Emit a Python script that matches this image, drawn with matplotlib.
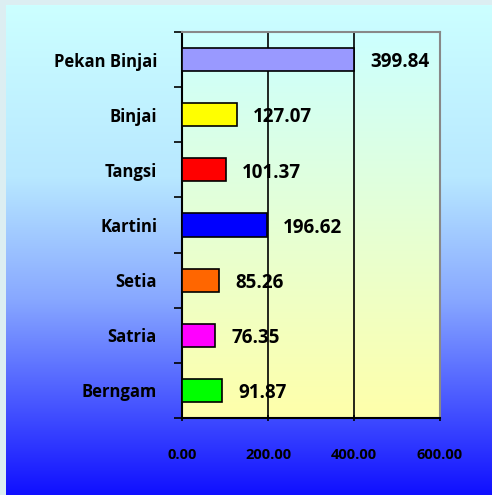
import matplotlib.pyplot as plt
from matplotlib.colors import LinearSegmentedColormap
import numpy as np

# Data (top to bottom as shown)
places = ["Pekan Binjai", "Binjai", "Tangsi", "Kartini", "Setia", "Satria", "Berngam"]
values = [399.84, 127.07, 101.37, 196.62, 85.26, 76.35, 91.87]
bar_colors = ["#9999ff", "#ffff00", "#ff0000", "#0000ff", "#ff6600", "#ff00ff", "#00ff00"]
xticks = [0, 200, 400, 600]

plt.rcParams['font.family'] = ['Open Sans', 'DejaVu Sans']
plt.rcParams['font.weight'] = 'bold'

fig = plt.figure(figsize=(4.92, 4.95), dpi=100)
fig.patch.set_facecolor("#dceef2")

# Background gradient for the whole slide
bg_ax = fig.add_axes([6/492, 0, 1 - 6/492, 1 - 5/495])
bg_cmap = LinearSegmentedColormap.from_list(
    "bg", [(0, "#ccffff"), (0.35, "#b8e8ff"), (0.6, "#88a8ff"), (0.8, "#4c5cff"), (1, "#1010ff")])
grad = np.linspace(0, 1, 256).reshape(-1, 1)
bg_ax.imshow(grad, aspect="auto", cmap=bg_cmap, extent=[0, 1, 1, 0])
bg_ax.axis("off")

# Chart axes
ax = fig.add_axes([182/492, 1 - 418/495, 258/492, 386/495])
ax.set_zorder(2)
plot_cmap = LinearSegmentedColormap.from_list("plot", ["#ccffff", "#ffffaa"])
ax.imshow(grad, aspect="auto", cmap=plot_cmap, extent=[0, 600, 6.5, -0.5], zorder=0)

ypos = np.arange(len(places))
ax.barh(ypos, values, height=0.42, color=bar_colors, edgecolor="black", linewidth=1.2, zorder=3)

for y, v in zip(ypos, values):
    ax.annotate(f"{v:.2f}", (v, y), xytext=(12, -2), textcoords="offset points",
                ha="left", va="center", fontsize=13.5, fontweight="bold", zorder=4)

for g in [200, 400]:
    ax.axvline(g, color="black", linewidth=1.2, zorder=2)

ax.set_xlim(0, 600)
ax.set_ylim(6.5, -0.5)
ax.set_xticks(xticks)
ax.set_xticklabels([f"{t:.2f}" for t in xticks], fontsize=10.5, fontweight="bold")
ax.set_yticks(ypos)
ax.set_yticklabels(places, fontsize=12, fontweight="bold")
ax.set_yticks(np.arange(-0.5, 7, 1), minor=True)
ax.tick_params(axis="y", which="major", length=0, pad=18)
ax.tick_params(axis="y", which="minor", length=6, width=1.2, direction="out")
ax.tick_params(axis="x", length=5, width=1.2, direction="inout", pad=19)

for side in ["left", "bottom"]:
    ax.spines[side].set_color("black")
    ax.spines[side].set_linewidth(1.5)
for side in ["top", "right"]:
    ax.spines[side].set_color("#888888")
    ax.spines[side].set_linewidth(1.5)

plt.savefig("out.png", dpi=100)
